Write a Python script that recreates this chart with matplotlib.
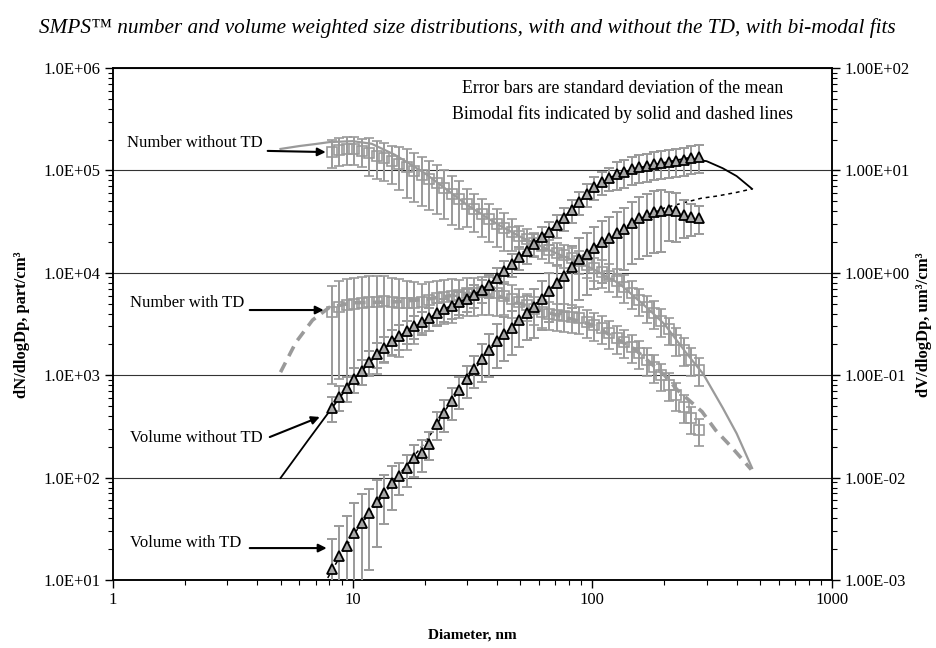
import matplotlib
matplotlib.use('Agg')
import matplotlib.pyplot as plt
import numpy as np
from matplotlib.ticker import FixedLocator, FuncFormatter, LogLocator, NullFormatter

plt.rcParams['font.family'] = ['Liberation Serif', 'DejaVu Serif']

# SMPS channel diameters, nm
dp = [8.20, 8.81, 9.47, 10.17, 10.93, 11.75, 12.62, 13.56, 14.58, 15.66,
      16.83, 18.09, 19.44, 20.89, 22.44, 24.12, 25.92, 27.85, 29.93, 32.16,
      34.56, 37.14, 39.91, 42.89, 46.09, 49.53, 53.22, 57.19, 61.46, 66.04,
      70.97, 76.26, 81.95, 88.07, 94.64, 101.7, 109.3, 117.4, 126.2, 135.6,
      145.7, 156.6, 168.3, 180.8, 194.3, 208.8, 224.4, 241.1, 259.1, 278.4]

# dN/dlogDp, part/cm3
num_noTD = [1.51e5, 1.58e5, 1.62e5, 1.62e5, 1.55e5, 1.48e5, 1.38e5, 1.32e5, 1.24e5, 1.16e5,
            1.08e5, 9.9e4, 9.0e4, 8.2e4, 7.5e4, 6.7e4, 5.9e4, 5.3e4, 4.7e4, 4.2e4,
            3.75e4, 3.35e4, 3.0e4, 2.74e4, 2.5e4, 2.29e4, 2.14e4, 1.95e4, 1.83e4, 1.67e4,
            1.56e4, 1.49e4, 1.40e4, 1.30e4, 1.19e4, 1.11e4, 1.02e4, 9.3e3, 8.3e3, 7.3e3,
            6.4e3, 5.4e3, 4.6e3, 4.05e3, 3.4e3, 2.8e3, 2.2e3, 1.76e3, 1.41e3, 1.12e3]
num_noTD_rsd = [0.3, 0.3, 0.3, 0.3, 0.3, 0.4, 0.4, 0.4, 0.4, 0.45,
                0.5, 0.5, 0.5, 0.5, 0.5, 0.5, 0.5, 0.5, 0.4, 0.4,
                0.4, 0.4, 0.4, 0.4, 0.35, 0.25, 0.25, 0.25, 0.25, 0.25,
                0.25, 0.25, 0.25, 0.25, 0.25, 0.25, 0.3, 0.3, 0.3, 0.3,
                0.3, 0.3, 0.3, 0.3, 0.3, 0.3, 0.3, 0.3, 0.3, 0.3]

num_TD = [4.14e3, 4.63e3, 4.85e3, 4.96e3, 5.07e3, 5.19e3, 5.19e3, 5.31e3, 5.19e3, 5.07e3,
          5.07e3, 5.07e3, 5.19e3, 5.42e3, 5.68e3, 5.81e3, 5.94e3, 6.07e3, 6.35e3, 6.35e3,
          6.50e3, 6.50e3, 6.30e3, 6.00e3, 5.60e3, 5.20e3, 4.80e3, 4.45e3, 4.15e3, 3.95e3,
          3.85e3, 3.80e3, 3.70e3, 3.60e3, 3.31e3, 3.09e3, 2.89e3, 2.58e3, 2.31e3, 2.11e3,
          1.88e3, 1.65e3, 1.41e3, 1.20e3, 1.00e3, 8.0e2, 6.4e2, 4.9e2, 3.8e2, 2.9e2]
num_TD_rsd = [0.8, 0.8, 0.8, 0.8, 0.8, 0.8, 0.8, 0.75, 0.7, 0.7,
              0.65, 0.6, 0.5, 0.5, 0.45, 0.45, 0.45, 0.4, 0.4, 0.4,
              0.4, 0.4, 0.4, 0.35, 0.35, 0.35, 0.3, 0.3, 0.3, 0.3,
              0.3, 0.3, 0.3, 0.3, 0.3, 0.3, 0.3, 0.3, 0.3, 0.3,
              0.3, 0.3, 0.3, 0.3, 0.3, 0.3, 0.3, 0.3, 0.3, 0.3]

# dV/dlogDp, um3/cm3
vol_noTD = [0.0479, 0.0613, 0.0750, 0.0918, 0.110, 0.135, 0.161, 0.184, 0.216, 0.242,
            0.270, 0.302, 0.331, 0.362, 0.405, 0.443, 0.474, 0.519, 0.555, 0.607,
            0.679, 0.760, 0.890, 1.04, 1.22, 1.43, 1.63, 1.91, 2.24, 2.50,
            2.93, 3.43, 4.10, 4.91, 5.89, 6.89, 7.71, 8.44, 9.23, 9.64,
            10.3, 10.8, 11.0, 11.6, 11.8, 12.1, 12.4, 12.6, 13.2, 13.5]
vol_noTD_rsd = [0.27, 0.27, 0.27, 0.27, 0.27, 0.27, 0.27, 0.27, 0.27, 0.27,
                0.25, 0.25, 0.25, 0.25, 0.25, 0.25, 0.25, 0.25, 0.25, 0.25,
                0.25, 0.25, 0.25, 0.25, 0.25, 0.25, 0.25, 0.25, 0.25, 0.25,
                0.25, 0.25, 0.25, 0.25, 0.25, 0.25, 0.25, 0.25, 0.3, 0.3,
                0.3, 0.3, 0.3, 0.3, 0.3, 0.3, 0.3, 0.3, 0.3, 0.3]

vol_TD = [0.00128, 0.00171, 0.00215, 0.00288, 0.00360, 0.00451, 0.00578, 0.00708, 0.00886, 0.0104,
          0.0124, 0.0155, 0.0174, 0.0213, 0.0334, 0.0427, 0.0560, 0.0717, 0.0918, 0.115,
          0.144, 0.176, 0.216, 0.253, 0.289, 0.346, 0.405, 0.463, 0.555, 0.664,
          0.795, 0.930, 1.14, 1.36, 1.53, 1.75, 2.00, 2.19, 2.45, 2.68,
          3.06, 3.43, 3.67, 3.92, 4.01, 4.10, 4.01, 3.67, 3.51, 3.43]
vol_TD_rsd = [0.95, 0.97, 0.97, 0.97, 0.92, 0.72, 0.64, 0.5, 0.45, 0.35,
              0.35, 0.35, 0.35, 0.3, 0.3, 0.35, 0.35, 0.35, 0.35, 0.35,
              0.4, 0.45, 0.45, 0.45, 0.45, 0.45, 0.45, 0.5, 0.5, 0.5,
              0.5, 0.55, 0.6, 0.6, 0.6, 0.6, 0.6, 0.6, 0.6, 0.6,
              0.6, 0.6, 0.6, 0.6, 0.6, 0.5, 0.5, 0.4, 0.35, 0.3]

# bi-modal fit curves
nwo_fit_dp = [5, 6, 7, 8, 10, 12, 15, 20, 30, 40, 50, 70, 100, 130, 170, 200, 250, 290, 350, 400, 464]
nwo_fit = [1.62e5, 1.73e5, 1.81e5, 1.89e5, 1.93e5, 1.82e5, 1.42e5, 9.4e4, 4.6e4, 3.0e4, 2.25e4,
           1.57e4, 1.1e4, 7.8e3, 4.5e3, 3.15e3, 1.58e3, 1.03e3, 4.8e2, 2.7e2, 1.24e2]

ntd_fit_dp = [5, 5.8, 6.8, 8, 10, 15, 20, 30, 40, 50, 70, 100, 150, 200, 226, 287, 327, 380, 460]
ntd_fit = [1.07e3, 2.1e3, 3.45e3, 4.6e3, 5.1e3, 5.2e3, 5.5e3, 6.3e3, 6.0e3, 5.0e3, 3.9e3,
           3.1e3, 1.8e3, 1.0e3, 7.2e2, 4.4e2, 2.9e2, 2.0e2, 1.2e2]

vwo_fit_dp = [5, 6.5, 8.2, 10, 12, 15, 20, 25, 30, 35, 40, 50, 60, 70, 85, 100, 120, 150, 200,
              250, 300, 350, 400, 464]
vwo_fit = [0.0099, 0.023, 0.048, 0.089, 0.14, 0.226, 0.34, 0.46, 0.56, 0.69, 0.89, 1.43, 2.15,
           2.85, 4.5, 6.6, 8.6, 10.4, 11.9, 13.2, 12.3, 10.5, 8.8, 6.6]

vtd_fit_dp = [7.6, 8.2, 10, 12, 15, 20, 21.5, 25, 30, 40, 50, 70, 100, 150, 200, 238, 285, 332, 400, 464]
vtd_fit = [0.0009, 0.00125, 0.0027, 0.0048, 0.0095, 0.022, 0.028, 0.05, 0.092, 0.216, 0.35, 0.78,
           1.72, 3.2, 4.3, 4.8, 5.35, 5.62, 6.1, 6.6]

gray = '#9a9a9a'

fig = plt.figure(figsize=(9.36, 6.48), dpi=100)
ax = fig.add_axes([113 / 936, 1 - 580 / 648, (832 - 113) / 936, (580 - 68) / 648])
ax.set_xscale('log')
ax.set_yscale('log')
ax.set_xlim(1, 1000)
ax.set_ylim(10, 1e6)
ax2 = ax.twinx()
ax2.set_yscale('log')
ax2.set_ylim(1e-3, 1e2)

ax.grid(axis='y', which='major', color='#333333', lw=0.8)
ax.set_axisbelow(True)

# number distributions, left axis
ax.plot(nwo_fit_dp, nwo_fit, color=gray, lw=1.6, zorder=2)
ax.plot(ntd_fit_dp, ntd_fit, color=gray, lw=2.6, dashes=(3, 2), zorder=2)
for y, rsd in [(num_noTD, num_noTD_rsd), (num_TD, num_TD_rsd)]:
    y = np.array(y)
    ax.errorbar(dp, y, yerr=y * np.array(rsd), fmt='s', ms=6.5, mfc='none', mec=gray, mew=1.2,
                ecolor=gray, elinewidth=1.4, capsize=3.5, capthick=1.4, zorder=3)

# volume distributions, right axis
ax2.plot(vwo_fit_dp, vwo_fit, color='black', lw=1.3, zorder=2)
ax2.plot(vtd_fit_dp, vtd_fit, color='black', lw=1.1, dashes=(2.5, 2.5), zorder=2)
for y, rsd in [(vol_noTD, vol_noTD_rsd), (vol_TD, vol_TD_rsd)]:
    y = np.array(y)
    ax2.errorbar(dp, y, yerr=y * np.array(rsd), fmt='none', ecolor=gray, elinewidth=1.4,
                 capsize=3.5, capthick=1.4, zorder=3)
    ax2.plot(dp, y, '^', ms=7, mfc='#a8a8a8', mec='black', mew=1.3, zorder=4)

# axes formatting
ax.xaxis.set_major_locator(FixedLocator([1, 10, 100, 1000]))
ax.xaxis.set_major_formatter(FuncFormatter(lambda v, p: f"{v:g}"))
ax.xaxis.set_minor_locator(LogLocator(base=10, subs=np.arange(2, 10)))
ax.xaxis.set_minor_formatter(NullFormatter())
ax.yaxis.set_major_locator(FixedLocator([1e1, 1e2, 1e3, 1e4, 1e5, 1e6]))
ax.yaxis.set_major_formatter(FuncFormatter(lambda v, p: f"{v:.1E}"))
ax.yaxis.set_minor_locator(LogLocator(base=10, subs=np.arange(2, 10)))
ax.yaxis.set_minor_formatter(NullFormatter())
ax2.yaxis.set_major_locator(FixedLocator([1e-3, 1e-2, 1e-1, 1e0, 1e1, 1e2]))
ax2.yaxis.set_major_formatter(FuncFormatter(lambda v, p: f"{v:.2E}"))
ax2.yaxis.set_minor_locator(LogLocator(base=10, subs=np.arange(2, 10)))
ax2.yaxis.set_minor_formatter(NullFormatter())

for a in (ax, ax2):
    a.tick_params(which='major', direction='out', length=6, width=1, labelsize=12, pad=3)
    a.tick_params(which='minor', direction='out', length=3.5, width=0.8)
    for s in a.spines.values():
        s.set_linewidth(1.1)

# annotations
ax.text(1.144, 1.85e5, 'Number without TD', fontsize=12, ha='left', va='center')
ax.text(1.177, 5.07e3, 'Number with TD', fontsize=12, ha='left', va='center')
ax.text(1.177, 244, 'Volume without TD', fontsize=12, ha='left', va='center')
ax.text(1.177, 23.0, 'Volume with TD', fontsize=12, ha='left', va='center')
arrow = dict(arrowstyle='-|>', color='black', lw=1.5, mutation_scale=12, shrinkA=0, shrinkB=0)
ax.annotate('', xy=(7.72, 1.51e5), xytext=(4.42, 1.55e5), arrowprops=arrow)
ax.annotate('', xy=(7.57, 4.33e3), xytext=(3.72, 4.33e3), arrowprops=arrow)
ax.annotate('', xy=(7.29, 391), xytext=(4.51, 249), arrowprops=arrow)
ax.annotate('', xy=(7.79, 20.5), xytext=(3.72, 20.5), arrowprops=arrow)

ax.text(0.709, 0.959, 'Error bars are standard deviation of the mean', transform=ax.transAxes,
        fontsize=12.8, ha='center', va='center')
ax.text(0.709, 0.910, 'Bimodal fits indicated by solid and dashed lines', transform=ax.transAxes,
        fontsize=12.8, ha='center', va='center')

fig.text(0.4995, 1 - 28 / 648,
         'SMPS\u2122 number and volume weighted size distributions, with and without the TD, with bi-modal fits',
         fontsize=15.3, style='italic', ha='center', va='center')
fig.text(472.5 / 936, 1 - 635 / 648, 'Diameter, nm', fontsize=11, fontweight='bold', ha='center', va='center')
fig.text(22 / 936, 1 - 325 / 648, 'dN/dlogDp, part/cm\u00b3', fontsize=12, fontweight='bold',
         rotation=90, ha='center', va='center')
fig.text(924 / 936, 1 - 325 / 648, 'dV/dlogDp, um\u00b3/cm\u00b3', fontsize=12, fontweight='bold',
         rotation=90, ha='center', va='center')

fig.savefig('out.png', dpi=100)
